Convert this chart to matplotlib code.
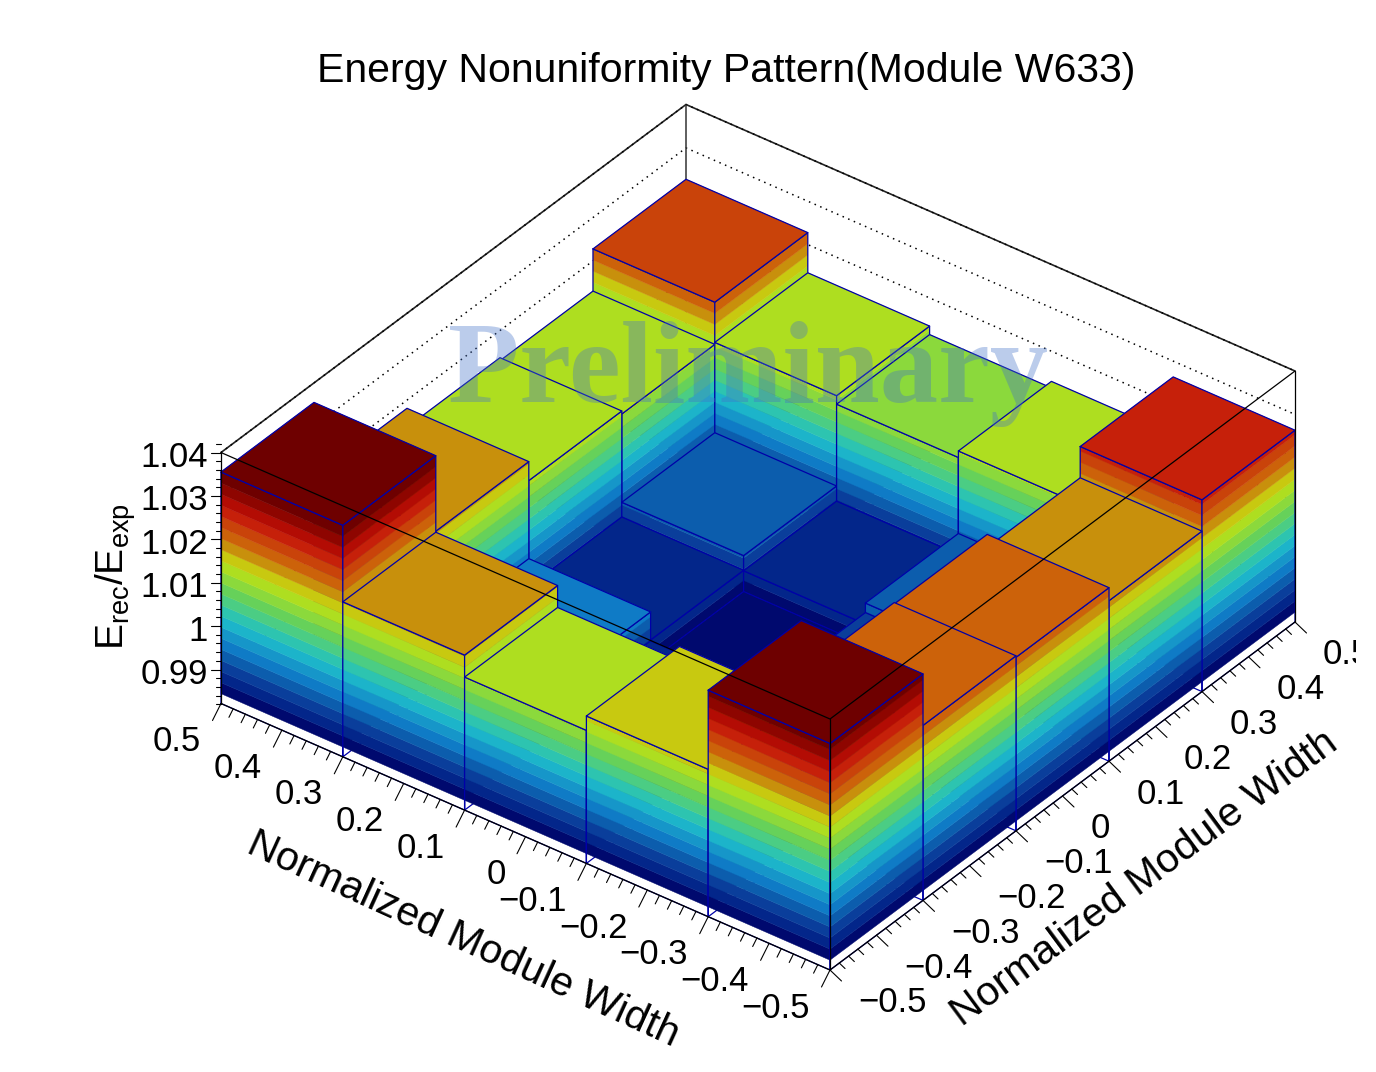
import numpy as np
import matplotlib
matplotlib.use("Agg")
import matplotlib.pyplot as plt
from matplotlib.patches import Polygon, Rectangle

plt.rcParams['font.family'] = ['Liberation Sans', 'DejaVu Sans']
plt.rcParams['mathtext.fontset'] = 'custom'
plt.rcParams['mathtext.rm'] = 'Liberation Sans'

# bin contents, rows run from x=0.5 to x=-0.5, columns from y=-0.5 to y=0.5
row_1 = [1.03551, 1.01811, 1.01374, 1.01305, 1.02277]
row_2 = [1.01788, 0.99576, 0.98931, 0.99270, 1.01351]
row_3 = [1.01282, 0.98908, 0.98443, 0.98920, 1.01155]
row_4 = [1.01613, 0.98908, 0.99185, 0.99404, 1.01305]
row_5 = [1.03436, 1.02249, 1.02215, 1.01915, 1.02636]
edges = [0.5, 0.3, 0.1, -0.1, -0.3, -0.5]

palette = ['#00096e', '#03268a', '#0a3e9b', '#0c5dad', '#0f7bc6', '#1696c9', '#1cb4ca',
           '#2dc4b0', '#4bcd84', '#66d15a', '#8bd93c', '#aede20', '#c8c910', '#c8900c',
           '#cc620a', '#c9430a', '#c6200a', '#b30c04', '#8e0500', '#6e0000']

x_ticks = [0.5, 0.4, 0.3, 0.2, 0.1, 0, -0.1, -0.2, -0.3, -0.4, -0.5]
z_ticks = [0.99, 1, 1.01, 1.02, 1.03, 1.04]
z_min, z_max = 0.98217, 1.04

# oblique view of the box, in image pixels
x0, y0 = 221, 703.5
ux, uy = 609, 266.5
vx, vy = 465, -348
zscale = 4340

heights = np.array([row_1, row_2, row_3, row_4, row_5])
levels = np.linspace(heights.min(), heights.max(), len(palette) + 1)


def proj(x, y, z):
    u = 0.5 - x
    v = y + 0.5
    return (x0 + ux * u + vx * v, y0 + uy * u + vy * v - (z - z_min) * zscale)


def line(pts, **kw):
    kw.setdefault('color', 'k')
    kw.setdefault('lw', 0.9)
    ax.plot([p[0] for p in pts], [p[1] for p in pts], zorder=3, solid_capstyle='round', **kw)


def banded_face(a, b, top):
    # a and b are the (x, y) ends of the wall
    for k, col in enumerate(palette):
        lo, hi = levels[k], min(levels[k + 1], top)
        if hi <= lo:
            break
        ax.add_patch(Polygon([proj(*a, lo), proj(*b, lo), proj(*b, hi), proj(*a, hi)],
                             fc=col, ec=col, lw=0.3, zorder=3))
    line([proj(*a, z_min), proj(*a, top), proj(*b, top), proj(*b, z_min), proj(*a, z_min)],
         color='#0000a8', lw=0.9)


fig = plt.figure(figsize=(13.76, 10.72), dpi=100)
ax = fig.add_axes([0, 0, 1, 1])
ax.set_xlim(0, 1376)
ax.set_ylim(1072, 0)
ax.axis('off')

# back walls with the z grid
line([proj(0.5, -0.5, z_max), proj(0.5, 0.5, z_max), proj(-0.5, 0.5, z_max)], color='#222222', lw=1.2)
for z in z_ticks:
    line([proj(0.5, -0.5, z), proj(0.5, 0.5, z), proj(-0.5, 0.5, z)], ls=(0, (1, 3)), lw=1.1)
line([proj(0.5, 0.5, z_min), proj(0.5, 0.5, z_max)], color='#333333', lw=1.1)

# bars, back to front
for i in range(5):
    for j in range(4, -1, -1):
        h = heights[i, j]
        xa, xb = edges[i], edges[i + 1]
        ya, yb = edges[5 - j], edges[4 - j]
        banded_face((xa, ya), (xb, ya), h)
        banded_face((xb, ya), (xb, yb), h)
        k = min(np.searchsorted(levels, h, side='right') - 1, len(palette) - 1)
        corners = [proj(xa, ya, h), proj(xa, yb, h), proj(xb, yb, h), proj(xb, ya, h)]
        ax.add_patch(Polygon(corners, fc=palette[k], ec=palette[k], lw=0.3, zorder=3))
        line(corners + corners[:1], color='#0000a8', lw=0.9)

# front edges of the box
line([proj(0.5, -0.5, z_max), proj(-0.5, -0.5, z_max), proj(-0.5, 0.5, z_max)])
line([proj(-0.5, -0.5, z_max), proj(-0.5, -0.5, z_min)])
line([proj(-0.5, 0.5, z_max), proj(-0.5, 0.5, z_min)])

# axes
line([proj(0.5, -0.5, z_min), proj(0.5, -0.5, z_max)])
line([proj(0.5, -0.5, z_min), proj(-0.5, -0.5, z_min)])
line([proj(-0.5, -0.5, z_min), proj(-0.5, 0.5, z_min)])

for n in range(51):
    t = 0.5 - n * 0.02
    major = n % 5 == 0
    px, py = proj(t, -0.5, z_min)
    s = 1 if major else 0.5
    line([(px, py), (px - 8.5 * s, py + 17 * s)], lw=0.8)
    px, py = proj(-0.5, -t, z_min)
    line([(px, py), (px + 11.5 * s, py + 11 * s)], lw=0.8)

zt = np.arange(0, 30) * 0.002 + 0.984
for z in zt:
    major = abs(z * 100 - round(z * 100)) < 1e-6
    px, py = proj(0.5, -0.5, z)
    line([(px, py), (px - (10 if major else 5), py)], lw=0.8)
px, py = proj(0.5, -0.5, z_min)
line([(px, py), (px - 5, py)], lw=0.8)

for t in x_ticks:
    lab = '0' if t == 0 else f'{t:g}'.replace('-', '\u2212')
    px, py = proj(t, -0.5, z_min)
    ax.text(px - 20, py + 38, lab, ha='right', va='center', fontsize=25, zorder=5)
    px, py = proj(-0.5, t, z_min)
    txt = ax.text(px + 28, py + 33, lab, ha='left', va='center', fontsize=25, zorder=5)
    # the 0.5 label runs off the edge of the drawing
    txt.set_clip_path(Rectangle((0, 0), 1356, 1072, transform=ax.transData))
    txt.set_clip_on(True)
for z in z_ticks:
    px, py = proj(0.5, -0.5, z)
    ax.text(px - 13, py + 5, f'{z:g}', ha='right', va='center', fontsize=25, zorder=5)

ax.text(726, 71, 'Energy Nonuniformity Pattern(Module W633)', ha='center', va='center', fontsize=29.5, zorder=5)
ax.text(463, 939, 'Normalized Module Width', ha='center', va='center', rotation=-24.5,
        rotation_mode='anchor', fontsize=29.5, zorder=5)
ax.text(1144, 878, 'Normalized Module Width', ha='center', va='center', rotation=36.5,
        rotation_mode='anchor', fontsize=29.5, zorder=5)
ax.text(116, 576, r'$\mathrm{E_{rec}/E_{exp}}$', ha='center', va='center', rotation=90, fontsize=28, zorder=5)
ax.text(748, 402, 'Preliminary', ha='center', va='baseline', family='Liberation Serif', weight='bold',
        fontsize=84, color='#4572c8', alpha=0.36, zorder=6)

fig.savefig('out.png', dpi=100)
